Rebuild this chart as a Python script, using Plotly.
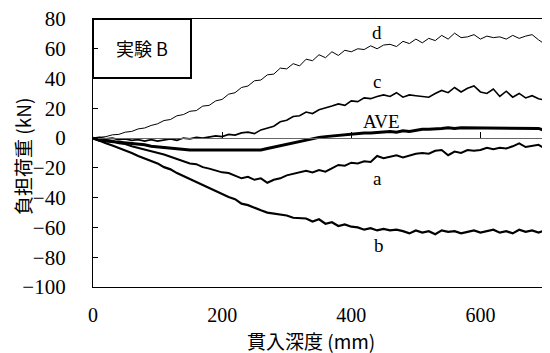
import plotly.graph_objects as go

depth = list(range(0, 701, 10))

d_vals = [0, 0.5, 1, 2.2, 2.5, 4, 4.5, 6.2, 6.8, 8.5, 9.6, 11.8, 12.5, 15, 15.8, 18, 18.5, 21.5, 22, 25,
          26, 29.5, 30.5, 34, 35, 38.5, 39, 42.5, 43, 47, 46.5, 50, 48.5, 53, 52, 56, 54, 58, 55.5, 59,
          58, 60, 59.5, 62, 60, 62.5, 63, 61.5, 65, 63.5, 66.5, 64, 67, 65.5, 69, 66.5, 70.5, 67.5, 68, 69.5,
          66.5, 68.5, 67.5, 68, 66.5, 69, 67, 68.5, 69.5, 66, 63]

c_vals = [0, 0.5, -0.5, 0, -1, -0.5, -1.5, -1, -2, -1, -2, -1.5, -0.5, -1.5, 0, -0.5, 0.5, 0, 1, 1.5,
          1, 2.5, 2, 3.5, 4, 3, 5.5, 7, 8, 11, 12, 14.5, 15, 17.5, 16.5, 19, 20, 21.5, 23, 22,
          25, 24.5, 27, 26.5, 28, 29, 28, 30.5, 27.5, 29, 28.5, 28, 27.5, 30, 32, 30.5, 34, 31, 33.5, 35,
          31, 30, 33, 28, 31.5, 27.5, 30, 27, 28.5, 26.5, 25.5]

ave_vals = [0, -1.5, -2, -2.5, -2.5, -3, -3.5, -4, -4.5, -5.5, -6, -6.5, -7, -7.5, -7.5, -8, -8, -8, -8, -8,
            -8, -8, -8, -8, -8, -8, -8, -7, -6, -5, -4, -3, -2, -1, 0, 0.5, 1, 1.5, 2, 2.5,
            3, 3, 3.5, 3.5, 4, 4, 4.5, 4, 5, 4.5, 5.5, 6, 6, 6.5, 6.5, 7, 6.5, 7, 7, 6.5,
            7, 7, 6.5, 7, 7, 7, 7, 6.5, 6.5, 6.5, 5]

a_vals = [0, -0.5, -1.5, -2, -3.5, -4, -5.5, -6.5, -7.5, -9, -10, -11, -12.5, -14, -15, -17, -17.5, -19.5, -20.5, -22,
          -23, -23.5, -25, -27, -26, -28, -27, -30, -28, -27, -25, -24, -23.5, -22, -23, -21.5, -22.5, -20, -18, -18.5,
          -16.5, -17, -15.5, -16, -12, -13.5, -12.5, -11.5, -13, -11.5, -10.5, -10, -10.5, -8.5, -8, -11.5, -9, -10, -8, -8.5,
          -8, -6.5, -7.5, -6.5, -7, -5.5, -3.5, -6, -5, -4.5, -7]

b_vals = [0, -2, -3.5, -5, -6.5, -8.5, -10, -12, -13.5, -15.5, -17, -19.5, -21, -23.5, -25.5, -28, -29.5, -32, -33.5, -36,
          -37.5, -39.5, -41, -44, -45, -47, -48.5, -50, -50.5, -51.5, -52, -53.5, -53.5, -54, -56, -54.5, -57.5, -56.5, -59, -58,
          -59.5, -60, -61.5, -60.5, -62, -61, -62, -61.5, -62.5, -64, -62, -63.5, -62.5, -64.5, -62, -63, -62.5, -64, -63, -62,
          -63.5, -62.5, -61.5, -63.5, -62.5, -64, -61.5, -63, -62, -63.5, -62]

series_names = ["d", "c", "AVE", "a", "b"]
label_x = [440, 440, 447, 440, 443]
label_y = [71, 38, 11, -27, -72]

x_ticks = [0, 200, 400, 600]
y_ticks = [-100, -80, -60, -40, -20, 0, 20, 40, 60, 80]

serif = "Liberation Serif"
cjk = "Noto Sans CJK JP"

# page body has an 8px margin: figure is drawn 8px right/down in the window
W, H = 542, 345
L, T, R, B = 85, 11, 5, 66
pw, ph = W - L - R, H - T - B

fig = go.Figure()
styles = {"d": 1.0, "c": 1.6, "AVE": 3.0, "a": 2.0, "b": 2.2}
for name, vals in zip(series_names, [d_vals, c_vals, ave_vals, a_vals, b_vals]):
    fig.add_trace(go.Scatter(x=depth, y=vals, mode="lines", name=name,
                             line=dict(color="black", width=styles[name]),
                             showlegend=False))

# dummy trace on the zero-line axis so it is drawn
fig.add_trace(go.Scatter(x=[0], y=[None], xaxis="x2", yaxis="y", showlegend=False,
                         mode="lines", hoverinfo="skip"))

for name, lx, ly in zip(series_names, label_x, label_y):
    fig.add_annotation(x=lx, y=ly, text=name, showarrow=False,
                       xanchor="center", yanchor="middle",
                       font=dict(family=serif, size=19, color="black"))

# box label
box_w = 98 / pw
box_h = 59 / ph
fig.add_shape(type="rect", xref="paper", yref="paper",
              x0=0, x1=box_w, y0=1 - box_h, y1=1, line=dict(color="black", width=2))
fig.add_annotation(xref="paper", yref="paper", x=box_w / 2, y=1 - box_h / 2, text="実験 B",
                   xanchor="center", yanchor="middle", showarrow=False,
                   font=dict(family=cjk, size=18, color="black"))

# axis titles (positions in window pixels of the reference, minus the 8px offset)
fig.add_annotation(xref="paper", yref="paper", x=(311 - 8 - L) / pw, y=1 - (340 - 8 - T) / ph,
                   text="貫入深度 (mm)", showarrow=False, xanchor="center", yanchor="middle",
                   font=dict(family=cjk, size=19, color="black"))
fig.add_annotation(xref="paper", yref="paper", x=(22 - 8 - L) / pw, y=1 - (157 - 8 - T) / ph,
                   text="負担荷重 (kN)", textangle=-90, showarrow=False,
                   xanchor="center", yanchor="middle",
                   font=dict(family=cjk, size=19, color="black"))

fig.update_layout(
    width=W, height=H,
    margin=dict(l=L, r=R, t=T, b=B, autoexpand=False),
    paper_bgcolor="white", plot_bgcolor="white",
    xaxis=dict(range=[0, 700], tickvals=x_ticks, ticks="", showgrid=False, zeroline=False,
               showline=True, linecolor="black", linewidth=1.2, mirror=True,
               tickfont=dict(family=serif, size=20, color="black"), ticklabelstandoff=10,
               ticklabeloverflow="allow"),
    xaxis2=dict(range=[0, 700], overlaying="x", anchor="free", position=100 / 180, side="top",
                showline=True, linecolor="#666666", linewidth=1, ticks="outside", ticklen=6,
                tickcolor="black", tickvals=[200, 400, 600], showticklabels=False,
                showgrid=False, zeroline=False),
    yaxis=dict(range=[-100, 80], tickvals=y_ticks, ticks="inside", ticklen=5, tickcolor="black",
               showgrid=False, zeroline=False, showline=True, linecolor="black", linewidth=1.2,
               mirror=True, tickfont=dict(family=serif, size=21, color="black"),
               ticklabelstandoff=22, ticklabeloverflow="allow"),
)

fig.write_html("out.html")
